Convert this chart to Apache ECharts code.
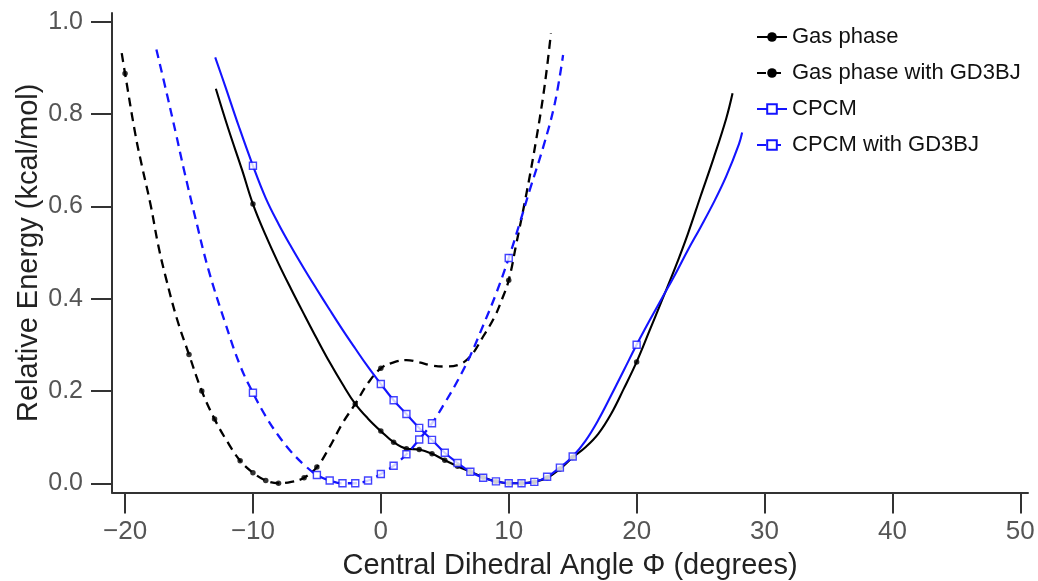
<!DOCTYPE html>
<html>
<head>
<meta charset="utf-8">
<title>Relative Energy vs Central Dihedral Angle</title>
<script src="https://cdn.jsdelivr.net/npm/echarts@6/dist/echarts.min.js"></script>
<style>
  html, body { margin: 0; padding: 0; background: #fff; }
  #chart { width: 1038px; height: 581px; }
</style>
</head>
<body>
<div id="chart"></div>
<script>
// Relative energy (kcal/mol) against the central dihedral angle (degrees)
const seriesNames = ['Gas phase', 'Gas phase with GD3BJ', 'CPCM', 'CPCM with GD3BJ'];

// fitted profiles
const gasPhaseCurve = [
  [-12.9, 0.855], [-11.9, 0.766], [-10.85, 0.679], [-10, 0.605], [-9, 0.537],
  [-8, 0.476], [-7, 0.42], [-6, 0.366], [-5, 0.313], [-4, 0.262], [-3, 0.215],
  [-2, 0.172], [-1, 0.140], [0, 0.113], [1, 0.089], [2, 0.075], [3, 0.073],
  [4, 0.064], [5, 0.050], [6, 0.037], [7, 0.025], [8, 0.013], [9, 0.004],
  [10, 0.0], [11, 0.0], [12, 0.003], [13, 0.012], [14, 0.031], [15, 0.056],
  [16, 0.078], [17, 0.107], [18, 0.150], [19, 0.205], [20, 0.263], [21, 0.33],
  [22, 0.398], [23, 0.466], [24, 0.54], [25, 0.622], [26, 0.703], [27, 0.79],
  [27.5, 0.845]
];
const gasPhaseGd3bjCurve = [
  [-20.26, 0.932], [-20, 0.888], [-19.2, 0.757], [-18.7, 0.69], [-18, 0.603],
  [-17.4, 0.515], [-16.85, 0.45], [-15.95, 0.357], [-15, 0.279], [-14, 0.20],
  [-13, 0.139], [-12, 0.09], [-11, 0.049], [-10, 0.023], [-9, 0.006], [-8, 0.0],
  [-7, 0.003], [-6, 0.012], [-5, 0.035], [-4, 0.079], [-3, 0.13], [-2, 0.172],
  [-1, 0.217], [0, 0.249], [1, 0.262], [2, 0.267], [3, 0.262], [4, 0.255],
  [5, 0.253], [6, 0.256], [7, 0.275], [8, 0.318], [8.9, 0.361], [9.45, 0.397],
  [10, 0.44], [10.6, 0.52], [11.4, 0.63], [12.15, 0.745], [12.8, 0.86], [13.3, 0.975]
];
const cpcmCurve = [
  [-12.95, 0.923], [-12.15, 0.859], [-11.1, 0.773], [-10, 0.688], [-9, 0.618],
  [-8, 0.562], [-7, 0.512], [-6, 0.465], [-5, 0.42], [-4, 0.376], [-3, 0.333],
  [-2, 0.292], [-1, 0.252], [0, 0.215], [1, 0.180], [2, 0.150], [3, 0.120],
  [4, 0.094], [5, 0.066], [6, 0.044], [7, 0.025], [8, 0.012], [9, 0.004],
  [10, 0.0], [11, 0.0], [12, 0.003], [13, 0.014], [14, 0.034], [15, 0.058],
  [16, 0.092], [17, 0.137], [18, 0.19], [19, 0.245], [20, 0.30], [21, 0.352],
  [22, 0.402], [23, 0.452], [24, 0.505], [25, 0.555], [26, 0.607], [27, 0.665],
  [28, 0.735], [28.25, 0.76]
];
const cpcmGd3bjCurve = [
  [-17.55, 0.94], [-16.7, 0.84], [-16, 0.755], [-15.4, 0.68], [-14.5, 0.575],
  [-13.5, 0.465], [-12.2, 0.35], [-11, 0.255], [-10, 0.196], [-9, 0.145],
  [-8, 0.103], [-7, 0.068], [-6, 0.04], [-5, 0.018], [-4, 0.006], [-3, 0.0],
  [-2, 0.0], [-1, 0.006], [0, 0.02], [1, 0.038], [2, 0.063], [3, 0.095],
  [4, 0.13], [5, 0.174], [6, 0.222], [7, 0.277], [8, 0.342], [9, 0.41],
  [10, 0.488], [10.85, 0.563], [11.65, 0.636], [12.7, 0.729], [13.6, 0.823],
  [14.25, 0.928]
];

// angles at which points were computed (drawn as markers on each profile)
const gasPhaseMarkX = [-10, -2, 0, 1, 2, 3, 4, 5, 6, 7, 8, 9, 10, 11, 12, 13, 14, 15, 20];
const gasPhaseGd3bjMarkX = [-20, -15, -14, -13, -11, -10, -9, -8, -6, -5, 0, 10];
const cpcmMarkX = [-10, 0, 1, 2, 3, 4, 5, 6, 7, 8, 9, 10, 11, 12, 13, 14, 15, 20];
const cpcmGd3bjMarkX = [-10, -5, -4, -3, -2, -1, 0, 1, 2, 3, 4, 10];

// axis ticks
const xTicks = [-20, -10, 0, 10, 20, 30, 40, 50];
const yTicks = [0, 0.2, 0.4, 0.6, 0.8, 1.0];

const FONT = '"Liberation Sans", Arial, Helvetica, sans-serif';
const BLACK = '#000000';
const BLUE = '#1414ff';
const AXIS = '#333333';

function marks(curve, xs) {
  return curve.filter(p => xs.includes(p[0]));
}

function lineSeries(name, curve, color, dashed, symbol) {
  const hollow = symbol === 'rect';
  return {
    name: name,
    type: 'line',
    data: curve,
    smooth: 0.4,
    showSymbol: false,
    symbol: symbol,
    symbolSize: hollow ? 7 : 6,
    itemStyle: hollow
      ? { color: '#ffffff', borderColor: color, borderWidth: 1.4 }
      : { color: color },
    lineStyle: { color: color, width: dashed ? 2.3 : 2.1, type: dashed ? [9, 6] : 'solid' },
    emphasis: { disabled: true },
    z: 2
  };
}

function markSeries(name, points, color, symbol) {
  const hollow = symbol === 'rect';
  return {
    name: name,
    type: 'scatter',
    data: points,
    symbol: symbol,
    symbolSize: hollow ? 7 : 5.5,
    itemStyle: hollow
      ? { color: '#ffffff', borderColor: color, borderWidth: 1.4 }
      : { color: color },
    emphasis: { disabled: true },
    z: 3
  };
}

const chart = echarts.init(document.getElementById('chart'), null, { renderer: 'canvas' });

chart.setOption({
  animation: false,
  backgroundColor: '#ffffff',
  textStyle: { fontFamily: FONT },
  grid: { left: 112, right: 10, top: 13, bottom: 88.5, containLabel: false, outerBoundsMode: 'none' },
  legend: {
    orient: 'vertical',
    left: 756,
    top: 25,
    padding: 0,
    itemWidth: 30,
    itemHeight: 12,
    itemGap: 12,
    itemTextGap: 13,
    data: seriesNames,
    textStyle: { fontFamily: FONT, fontSize: 22, lineHeight: 24, color: '#111111' }
  },
  xAxis: {
    type: 'value',
    min: -21.02,
    max: 50.6,
    name: 'Central Dihedral Angle \u03A6 (degrees)',
    nameLocation: 'middle',
    nameGap: 59,
    nameMoveOverlap: false,
    nameTextStyle: { fontFamily: FONT, fontSize: 29, color: '#222222' },
    splitLine: { show: false },
    axisLine: { show: true, onZero: false, lineStyle: { color: AXIS, width: 2 } },
    axisTick: { show: true, length: 21, customValues: xTicks, lineStyle: { color: AXIS, width: 2 } },
    axisLabel: {
      customValues: xTicks,
      margin: 26,
      fontFamily: FONT,
      fontSize: 26,
      color: '#555555',
      formatter: v => (v < 0 ? '\u2212' + Math.abs(v) : String(v))
    }
  },
  yAxis: {
    type: 'value',
    min: -0.02,
    max: 1.019,
    name: 'Relative Energy (kcal/mol)',
    nameLocation: 'middle',
    nameGap: 69,
    nameMoveOverlap: false,
    nameTextStyle: { fontFamily: FONT, fontSize: 29, color: '#222222' },
    splitLine: { show: false },
    axisLine: { show: true, onZero: false, lineStyle: { color: AXIS, width: 2 } },
    axisTick: { show: true, length: 21, customValues: yTicks, lineStyle: { color: AXIS, width: 2 } },
    axisLabel: {
      customValues: yTicks,
      margin: 29,
      fontFamily: FONT,
      fontSize: 25,
      color: '#555555',
      formatter: v => v.toFixed(1)
    }
  },
  series: [
    lineSeries(seriesNames[0], gasPhaseCurve, BLACK, false, 'circle'),
    lineSeries(seriesNames[1], gasPhaseGd3bjCurve, BLACK, true, 'circle'),
    lineSeries(seriesNames[2], cpcmCurve, BLUE, false, 'rect'),
    lineSeries(seriesNames[3], cpcmGd3bjCurve, BLUE, true, 'rect'),
    markSeries(seriesNames[0], marks(gasPhaseCurve, gasPhaseMarkX), BLACK, 'circle'),
    markSeries(seriesNames[1], marks(gasPhaseGd3bjCurve, gasPhaseGd3bjMarkX), BLACK, 'circle'),
    markSeries(seriesNames[2], marks(cpcmCurve, cpcmMarkX), BLUE, 'rect'),
    markSeries(seriesNames[3], marks(cpcmGd3bjCurve, cpcmGd3bjMarkX), BLUE, 'rect')
  ]
});
</script>
</body>
</html>
